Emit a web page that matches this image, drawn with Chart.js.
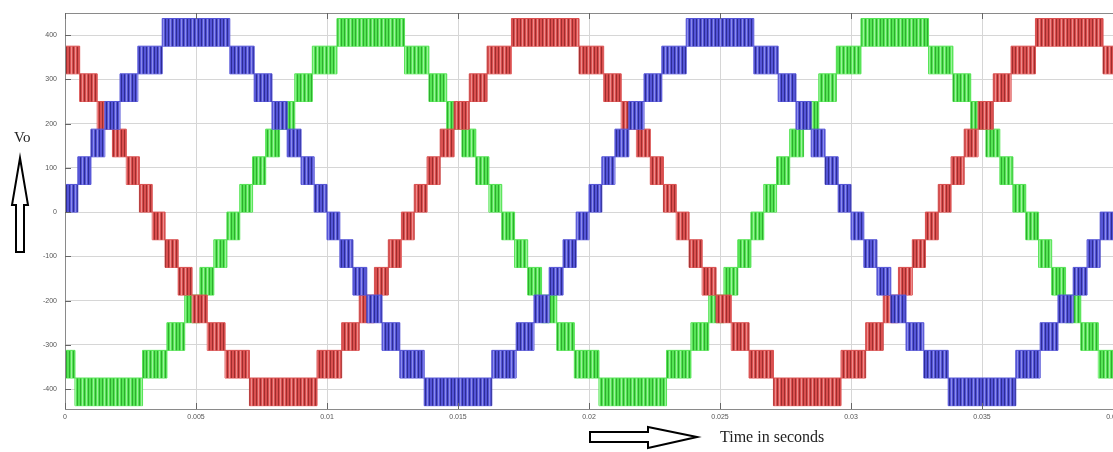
<!DOCTYPE html>
<html>
<head>
<meta charset="utf-8">
<title>Three phase output voltage</title>
<script src="https://cdn.jsdelivr.net/npm/chart.js@4.4.0/dist/chart.umd.min.js"></script>
<style>
  html, body { margin: 0; padding: 0; background: #fff; }
  #wrap { position: relative; width: 1113px; height: 452px; }
</style>
</head>
<body>
<div id="wrap"><canvas id="myChart"></canvas></div>
<script>
// axis ticks
const xTicks = [0, 0.005, 0.01, 0.015, 0.02, 0.025, 0.03, 0.035, 0.04];
const xTickLabels = ['0', '0.005', '0.01', '0.015', '0.02', '0.025', '0.03', '0.035', '0.04'];
const yTicks = [-400, -300, -200, -100, 0, 100, 200, 300, 400];

const stepV = 62.5;   // one inverter level
const tEnd = 0.04;

// start time (s) of each stair block and its band (block spans band*stepV .. (band+1)*stepV)
const blueT = [0, 0.00049, 0.00099, 0.00152, 0.00210, 0.00278, 0.00371, 0.00629, 0.00722, 0.00790, 0.00848, 0.00901, 0.00951,
  0.01000, 0.01049, 0.01099, 0.01152, 0.01210, 0.01278, 0.01371, 0.01629, 0.01722, 0.01790, 0.01848, 0.01901, 0.01951,
  0.02000, 0.02049, 0.02099, 0.02152, 0.02210, 0.02278, 0.02371, 0.02629, 0.02722, 0.02790, 0.02848, 0.02901, 0.02951,
  0.03000, 0.03049, 0.03099, 0.03152, 0.03210, 0.03278, 0.03371, 0.03629, 0.03722, 0.03790, 0.03848, 0.03901, 0.03951];
const blueBand = [0, 1, 2, 3, 4, 5, 6, 5, 4, 3, 2, 1, 0,
  -1, -2, -3, -4, -5, -6, -7, -6, -5, -4, -3, -2, -1,
  0, 1, 2, 3, 4, 5, 6, 5, 4, 3, 2, 1, 0,
  -1, -2, -3, -4, -5, -6, -7, -6, -5, -4, -3, -2, -1];

const redT = [0, 0.00056, 0.00123, 0.00181, 0.00234, 0.00284, 0.00333, 0.00382, 0.00432, 0.00485, 0.00543, 0.00611, 0.00704,
  0.00962, 0.01056, 0.01123, 0.01181, 0.01234, 0.01284, 0.01333, 0.01382, 0.01432, 0.01485, 0.01543, 0.01611, 0.01704,
  0.01962, 0.02056, 0.02123, 0.02181, 0.02234, 0.02284, 0.02333, 0.02382, 0.02432, 0.02485, 0.02543, 0.02611, 0.02704,
  0.02962, 0.03056, 0.03123, 0.03181, 0.03234, 0.03284, 0.03333, 0.03382, 0.03432, 0.03485, 0.03543, 0.03611, 0.03704,
  0.03962];
const redBand = [5, 4, 3, 2, 1, 0, -1, -2, -3, -4, -5, -6, -7,
  -6, -5, -4, -3, -2, -1, 0, 1, 2, 3, 4, 5, 6,
  5, 4, 3, 2, 1, 0, -1, -2, -3, -4, -5, -6, -7,
  -6, -5, -4, -3, -2, -1, 0, 1, 2, 3, 4, 5, 6,
  5];

const greenT = [0, 0.00038, 0.00296, 0.00389, 0.00457, 0.00515, 0.00568, 0.00618, 0.00667, 0.00716, 0.00766, 0.00819, 0.00877,
  0.00944, 0.01038, 0.01296, 0.01389, 0.01457, 0.01515, 0.01568, 0.01618, 0.01667, 0.01716, 0.01766, 0.01819, 0.01877,
  0.01944, 0.02038, 0.02296, 0.02389, 0.02457, 0.02515, 0.02568, 0.02618, 0.02667, 0.02716, 0.02766, 0.02819, 0.02877,
  0.02944, 0.03038, 0.03296, 0.03389, 0.03457, 0.03515, 0.03568, 0.03618, 0.03667, 0.03716, 0.03766, 0.03819, 0.03877,
  0.03944];
const greenBand = [-6, -7, -6, -5, -4, -3, -2, -1, 0, 1, 2, 3, 4,
  5, 6, 5, 4, 3, 2, 1, 0, -1, -2, -3, -4, -5,
  -6, -7, -6, -5, -4, -3, -2, -1, 0, 1, 2, 3, 4,
  5, 6, 5, 4, 3, 2, 1, 0, -1, -2, -3, -4, -5,
  -6];

// stair line through the top (offset 1) or bottom (offset 0) of each block
function stairs(times, bands, offset) {
  const pts = times.map((t, i) => ({ x: t, y: (bands[i] + offset) * stepV }));
  pts.push({ x: tEnd, y: pts[pts.length - 1].y });
  return pts;
}

// vertical switching stripes inside the blocks
function stripes(base, dark, light) {
  const c = document.createElement('canvas');
  c.width = 11; c.height = 4;
  const g = c.getContext('2d');
  g.fillStyle = base; g.fillRect(0, 0, 11, 4);
  g.fillStyle = dark;
  [0, 3, 7].forEach(x => g.fillRect(x, 0, 1, 4));
  g.fillStyle = light;
  [5, 9].forEach(x => g.fillRect(x, 0, 1, 4));
  return g.createPattern(c, 'repeat');
}

const phases = [
  { name: 'Vb', t: blueT, band: blueBand, base: 'rgb(85,85,215)', dark: 'rgb(45,45,150)', light: 'rgb(140,140,235)' },
  { name: 'Va', t: redT, band: redBand, base: 'rgb(218,80,80)', dark: 'rgb(160,45,45)', light: 'rgb(238,140,140)' },
  { name: 'Vc', t: greenT, band: greenBand, base: 'rgb(85,228,85)', dark: 'rgb(45,175,45)', light: 'rgb(155,242,155)' }
];

const datasets = [];
phases.forEach(p => {
  datasets.push({
    label: p.name,
    data: stairs(p.t, p.band, 1),
    stepped: true,
    fill: '+1',
    backgroundColor: stripes(p.base, p.dark, p.light),
    borderColor: p.base,
    borderWidth: 1,
    pointRadius: 0
  });
  datasets.push({
    label: p.name + ' low',
    data: stairs(p.t, p.band, 0),
    stepped: true,
    fill: false,
    borderColor: p.base,
    borderWidth: 1,
    pointRadius: 0
  });
});

// frame, inside ticks, arrows and axis captions
const decorations = {
  id: 'decorations',
  afterDraw(chart) {
    const { ctx, chartArea: a, scales: { x, y } } = chart;
    ctx.save();
    ctx.strokeStyle = '#8a8a8a';
    ctx.lineWidth = 1;
    ctx.strokeRect(a.left + 0.5, a.top + 0.5, a.right - a.left, a.bottom - a.top);

    ctx.strokeStyle = '#666';
    ctx.beginPath();
    xTicks.forEach(v => {
      const px = Math.round(x.getPixelForValue(v)) + 0.5;
      ctx.moveTo(px, a.bottom); ctx.lineTo(px, a.bottom - 6);
      ctx.moveTo(px, a.top); ctx.lineTo(px, a.top + 6);
    });
    yTicks.forEach(v => {
      const py = Math.round(y.getPixelForValue(v)) + 0.5;
      ctx.moveTo(a.left, py); ctx.lineTo(a.left + 6, py);
    });
    ctx.stroke();

    ctx.strokeStyle = '#000';
    ctx.fillStyle = '#fff';
    ctx.lineWidth = 2;
    ctx.lineJoin = 'miter';
    // up arrow
    ctx.beginPath();
    ctx.moveTo(20, 158); ctx.lineTo(28, 205); ctx.lineTo(24, 205); ctx.lineTo(24, 252);
    ctx.lineTo(16, 252); ctx.lineTo(16, 205); ctx.lineTo(12, 205); ctx.closePath();
    ctx.fill(); ctx.stroke();
    // right arrow
    ctx.beginPath();
    ctx.moveTo(697, 437); ctx.lineTo(648, 427); ctx.lineTo(648, 432); ctx.lineTo(590, 432);
    ctx.lineTo(590, 442); ctx.lineTo(648, 442); ctx.lineTo(648, 448); ctx.closePath();
    ctx.fill(); ctx.stroke();

    ctx.fillStyle = '#222';
    ctx.font = '15px "Liberation Serif"';
    ctx.textBaseline = 'alphabetic';
    ctx.fillText('Vo', 14, 142);
    ctx.font = '16px "Liberation Serif"';
    ctx.fillText('Time in seconds', 720, 442);
    ctx.restore();
  }
};

const ctx = document.getElementById('myChart').getContext('2d');
const myChart = new Chart(ctx, {
  type: 'line',
  data: { datasets: datasets },
  options: {
    responsive: true,
    maintainAspectRatio: false,
    animation: false,
    layout: { padding: { top: 13, left: 0, right: 0, bottom: 0 } },
    plugins: {
      legend: { display: false },
      tooltip: { enabled: false },
      filler: { propagate: false }
    },
    scales: {
      x: {
        type: 'linear',
        min: 0,
        max: tEnd,
        afterBuildTicks: s => { s.ticks = xTicks.map(v => ({ value: v })); },
        afterFit: s => { s.height = 43; s.paddingLeft = 0; s.paddingRight = 0; },
        ticks: {
          callback: (v, i) => xTickLabels[i],
          autoSkip: false,
          maxRotation: 0,
          padding: 4,
          color: '#555',
          font: { family: 'Liberation Sans', size: 7 }
        },
        grid: { color: '#d6d6d6', drawTicks: false },
        border: { color: '#8a8a8a' }
      },
      y: {
        min: -445,
        max: 450,
        afterBuildTicks: s => { s.ticks = yTicks.map(v => ({ value: v })); },
        afterFit: s => { s.width = 65; s.paddingTop = 0; s.paddingBottom = 0; },
        ticks: {
          padding: 8,
          color: '#555',
          font: { family: 'Liberation Sans', size: 7 }
        },
        grid: { color: '#d6d6d6', drawTicks: false },
        border: { color: '#8a8a8a' }
      }
    }
  },
  plugins: [decorations]
});
</script>
</body>
</html>
